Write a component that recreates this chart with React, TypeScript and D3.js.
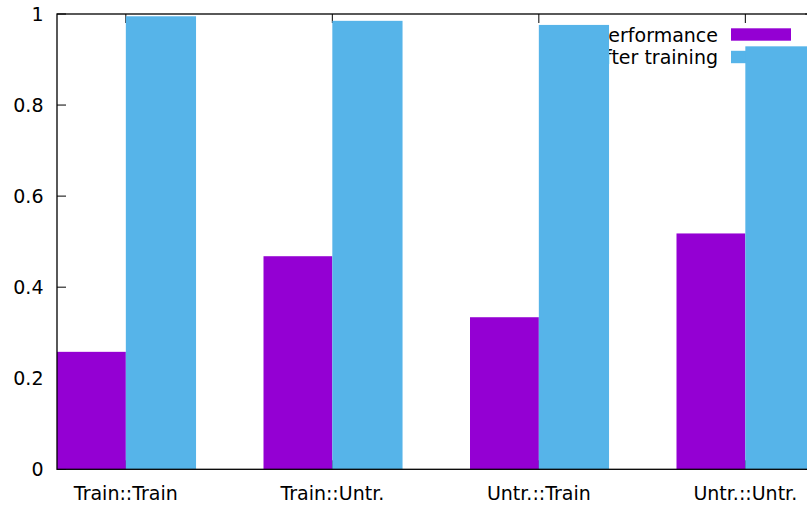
import React, { useEffect, useRef } from "react";
import * as d3 from "d3";

// Groups shown along the x axis
const categories = ["Train::Train", "Train::Untr.", "Untr.::Train", "Untr.::Untr."];
// Series values, one per group
const initialPerformance = [0.258, 0.468, 0.334, 0.518];
const afterTraining = [0.995, 0.985, 0.976, 0.929];
const seriesNames = ["Base performance", "After training"];
const yTicks = [0, 0.2, 0.4, 0.6, 0.8, 1];

const COLORS = ["#9400d3", "#56b4e9"];
const FONT = "'DejaVu Sans', sans-serif";

export default function App() {
  const ref = useRef<SVGSVGElement | null>(null);

  useEffect(() => {
    const svg = d3.select(ref.current);
    svg.selectAll("*").remove();

    const W = 807, H = 508;
    const left = 57, top = 14, bottom = 469.3;
    const groupStep = 206.5;
    const right = left + groupStep * (11 / 3);

    const x = d3.scaleLinear().domain([-1 / 3, 3 + 1 / 3]).range([left, right]);
    const y = d3.scaleLinear().domain([0, 1]).range([bottom, top]);
    // each bar spans one third of a group; the second series ends a hair wider
    const barSpan = [1 / 3, 0.34];
    const tickLen = 9;

    const g = svg.append("g");

    // tick marks (behind the bars)
    const ticks = g.append("g").attr("stroke", "#000").attr("stroke-width", 1);
    yTicks.forEach((t) => {
      ticks.append("line").attr("x1", left).attr("x2", left + tickLen).attr("y1", y(t)).attr("y2", y(t));
      ticks.append("line").attr("x1", right).attr("x2", right - tickLen).attr("y1", y(t)).attr("y2", y(t));
    });
    categories.forEach((_, i) => {
      ticks.append("line").attr("x1", x(i)).attr("x2", x(i)).attr("y1", bottom).attr("y2", bottom - tickLen);
      ticks.append("line").attr("x1", x(i)).attr("x2", x(i)).attr("y1", top).attr("y2", top + tickLen);
    });

    // y tick labels
    g.append("g")
      .selectAll("text")
      .data(yTicks)
      .join("text")
      .attr("x", 43.5)
      .attr("y", (d) => y(d))
      .attr("dy", "0.36em")
      .attr("text-anchor", "end")
      .attr("font-family", FONT)
      .attr("font-size", 19)
      .attr("fill", "#000")
      .text((d) => d3.format("~g")(d));

    // x tick labels
    g.append("g")
      .selectAll("text")
      .data(categories)
      .join("text")
      .attr("x", (_, i) => x(i))
      .attr("y", 499.5)
      .attr("text-anchor", "middle")
      .attr("font-family", FONT)
      .attr("font-size", 19)
      .attr("fill", "#000")
      .text((d) => d);

    // legend
    const legendRows = [34.5, 57];
    const legend = g.append("g");
    seriesNames.forEach((name, i) => {
      legend
        .append("text")
        .attr("x", 718)
        .attr("y", legendRows[i] + 7)
        .attr("text-anchor", "end")
        .attr("font-family", FONT)
        .attr("font-size", 19)
        .attr("fill", "#000")
        .text(name);
      legend
        .append("rect")
        .attr("x", 731)
        .attr("y", legendRows[i] - 6.2)
        .attr("width", 60)
        .attr("height", 12.4)
        .attr("fill", COLORS[i]);
    });

    // bars
    const series = [initialPerformance, afterTraining];
    series.forEach((vals, s) => {
      const start = (s - 1) / 3;
      g.append("g")
        .selectAll("rect")
        .data(vals)
        .join("rect")
        .attr("x", (_, i) => x(i + start))
        .attr("y", (d) => y(d))
        .attr("width", (_, i) => x(i + start + barSpan[s]) - x(i + start))
        .attr("height", (d) => bottom - y(d))
        .attr("fill", COLORS[s]);
    });

    // plot border
    g.append("rect")
      .attr("x", left)
      .attr("y", top)
      .attr("width", right - left)
      .attr("height", bottom - top)
      .attr("fill", "none")
      .attr("stroke", "#000")
      .attr("stroke-width", 1.3);

    svg.attr("width", W).attr("height", H);
  }, []);

  return (
    <div style={{ position: "fixed", left: 0, top: 0, width: 807, height: 508, overflow: "hidden", background: "#fff" }}>
      <svg ref={ref} width={807} height={508} style={{ display: "block" }} />
    </div>
  );
}
